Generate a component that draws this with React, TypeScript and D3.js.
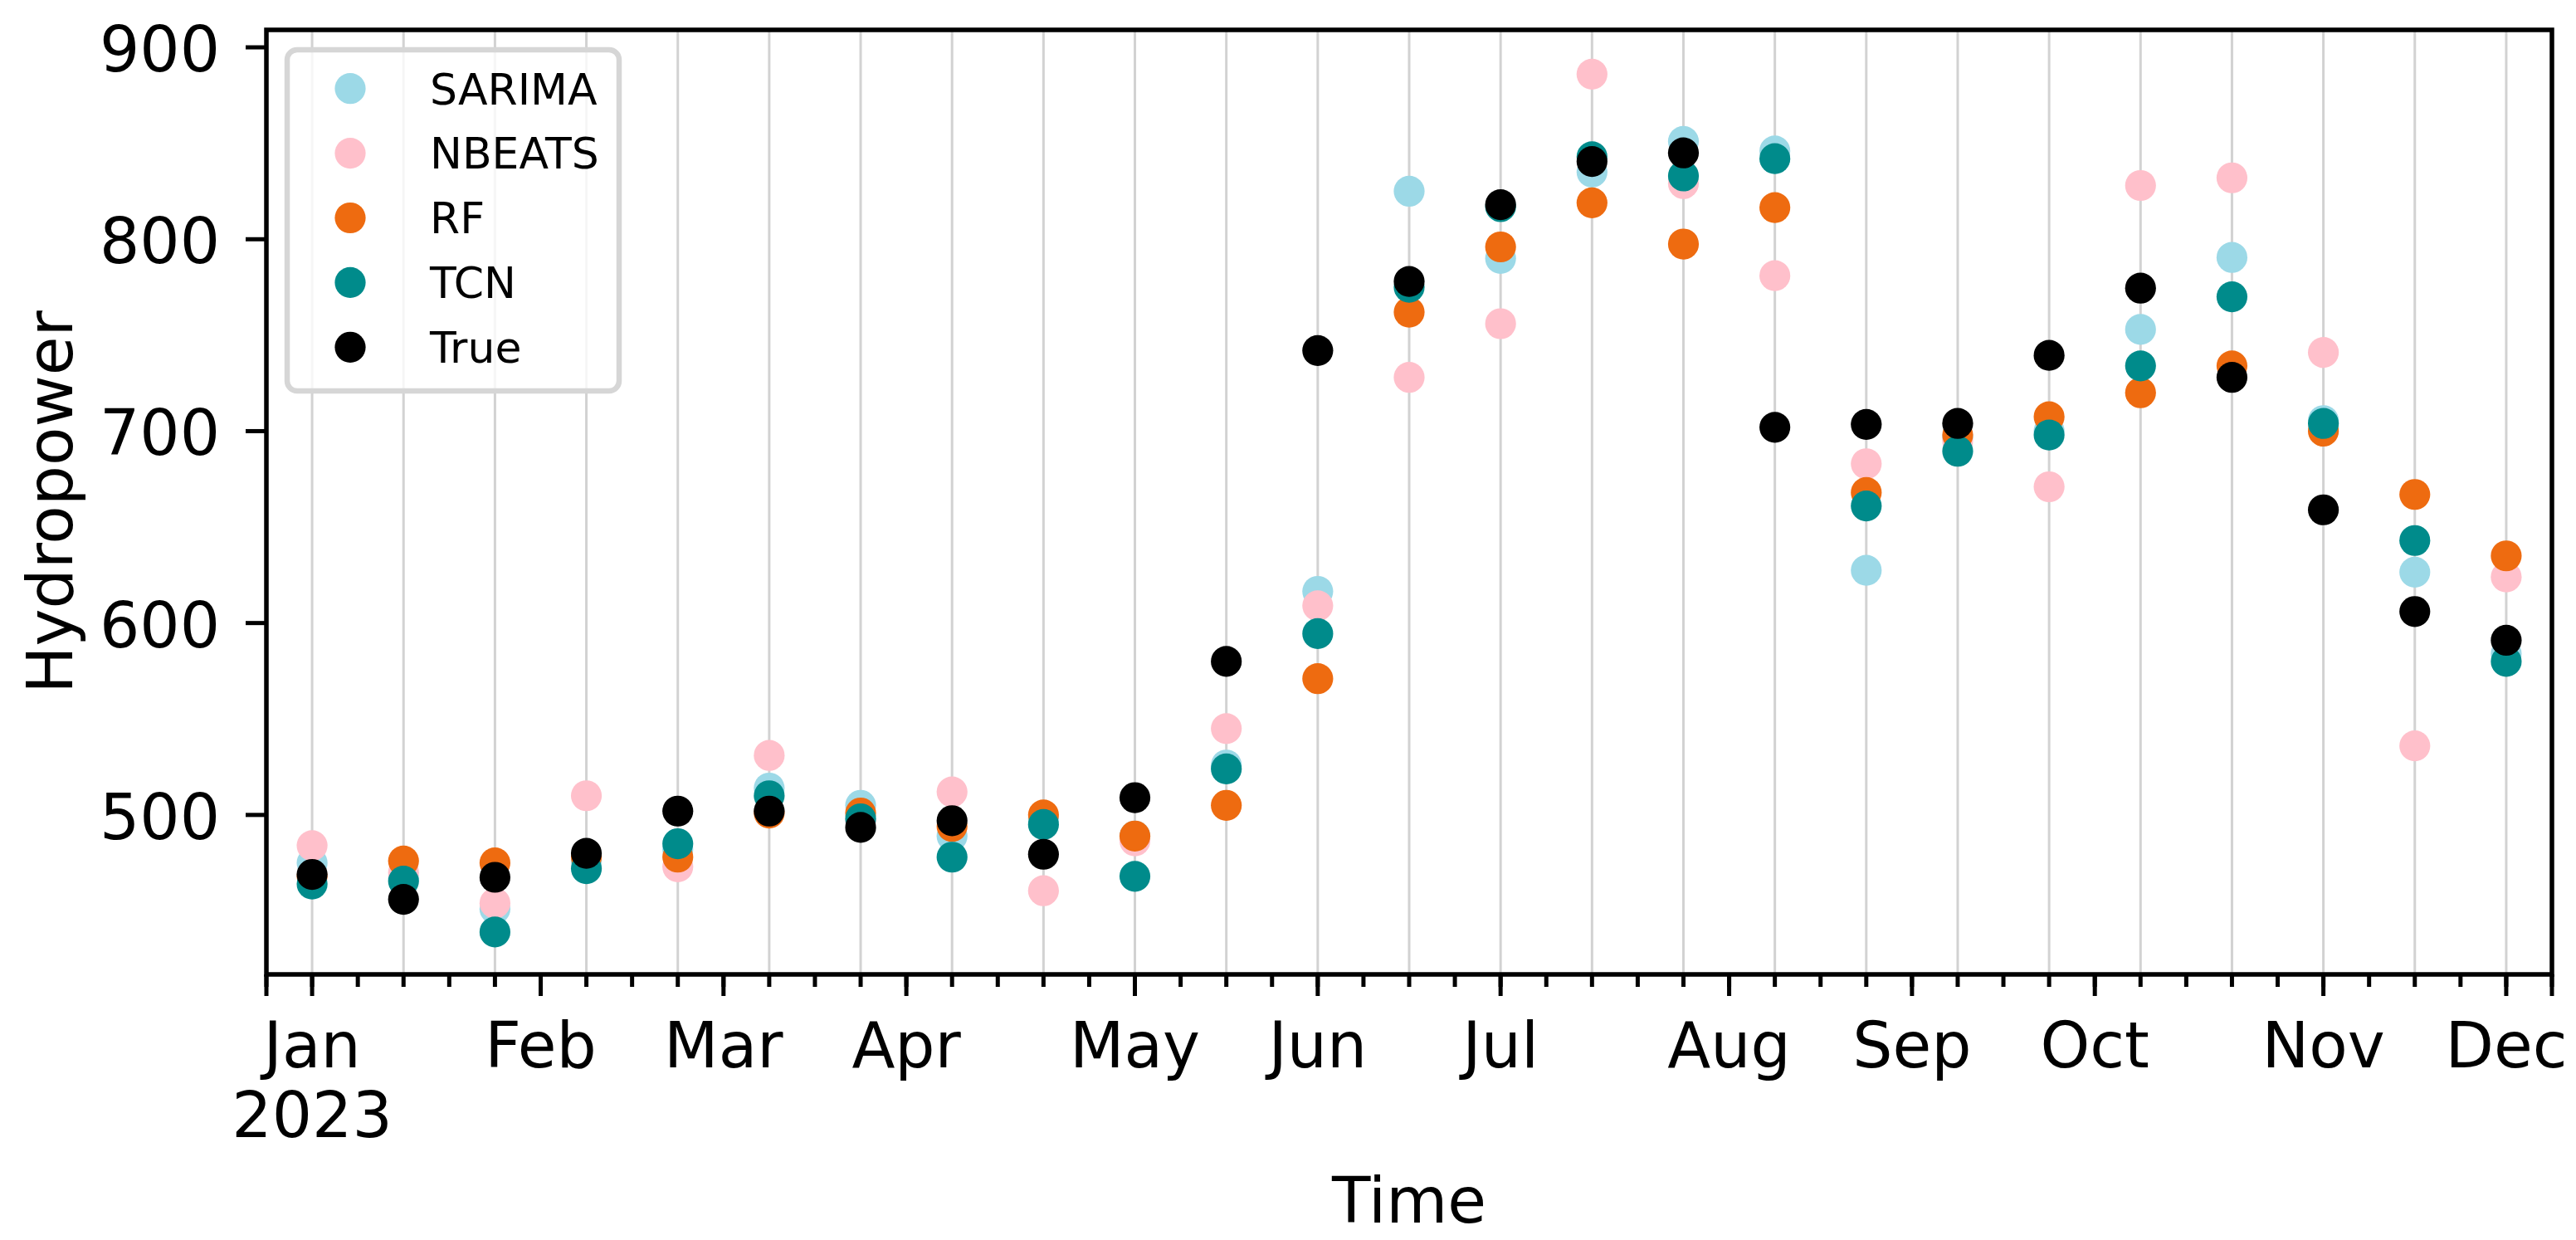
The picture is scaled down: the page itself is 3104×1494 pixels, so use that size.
import React, { useEffect } from "react";
import * as d3 from "d3";

// ---- Data ----
// x positions are in weeks since the first observation (Jan 2023), one point every 2 weeks
const weekIndex = [0, 2, 4, 6, 8, 10, 12, 14, 16, 18, 20, 22, 24, 26, 28, 30, 32, 34, 36, 38, 40, 42, 44, 46, 48];

const sarima = [475, 467, 451, 476, 482, 514, 505, 489, 498, 489, 526, 616.5, 825, 790, 835, 851, 846, 627.5, 697, 700, 753, 790.5, 705.5, 626.5, 584];
const nbeats = [484, 470, 454, 510, 473, 531, 497, 512, 460.5, 486.5, 545, 609, 728, 756, 886, 829, 781, 683, 695, 671, 828, 832, 741, 536, 624];
const rf = [468, 476, 475, 478, 478, 501, 501, 494, 500, 489, 505, 571, 762, 796, 819, 797.5, 816.5, 668, 698, 707.5, 720, 734, 700, 667, 635];
const tcn = [464, 465.5, 439, 472, 485, 510, 498, 478, 495, 468, 524, 594.5, 775, 817, 843, 833, 842, 661, 689.5, 698, 734, 770, 704, 643, 580];
const truth = [469, 456, 467.5, 480, 502, 502, 493.5, 497, 479.5, 509, 580, 742, 778, 818, 840.5, 845, 702, 703.5, 704, 739.5, 774.5, 728, 659, 606, 591];

const seriesNames = ["SARIMA", "NBEATS", "RF", "TCN", "True"];
const seriesColors = ["#9cd9e7", "#ffc0cb", "#ee6b10", "#008b8b", "#000000"];
const seriesValues = [sarima, nbeats, rf, tcn, truth];

// month ticks (week index of month start) and labels
const monthWeeks = [0, 5, 9, 13, 18, 22, 26, 31, 35, 39, 44, 48];
const monthLabels = ["Jan", "Feb", "Mar", "Apr", "May", "Jun", "Jul", "Aug", "Sep", "Oct", "Nov", "Dec"];
const yTicks = [500, 600, 700, 800, 900];

const W = 3104;
const H = 1494;
const left = 321;
const right = 3075;
const top = 36;
const bottom = 1174;
const FONT = "DejaVu Sans";

export default function App() {
  useEffect(() => {
    document.body.style.margin = "0";
  }, []);

  const x = d3.scaleLinear().domain([-1, 49]).range([left, right]);
  const y = d3.scaleLinear().domain([416.9, 909.1]).range([bottom, top]);

  const minorWeeks = d3.range(-1, 50);
  const endTicks = [-1, 49];

  const legendX = 346;
  const legendY = 60;
  const legendW = 400;
  const legendH = 411;
  const rowH = 77.9;

  return (
    <svg
      width={W}
      height={H}
      viewBox={`0 0 ${W} ${H}`}
      style={{ display: "block", position: "absolute", left: 0, top: 0, background: "#fff" }}
      fontFamily={FONT}
    >
      <rect x={0} y={0} width={W} height={H} fill="#fff" />
      {/* vertical grid at data points */}
      {weekIndex.map((w, i) => (
        <line key={"g" + i} x1={x(w)} x2={x(w)} y1={top} y2={bottom} stroke="#d2d2d2" strokeWidth={3} />
      ))}

      {/* points */}
      {seriesValues.map((vals, s) => (
        <g key={"s" + s}>
          {vals.map((v, i) => (
            <circle key={i} cx={x(weekIndex[i])} cy={y(v)} r={18.6} fill={seriesColors[s]} />
          ))}
        </g>
      ))}

      {/* spines */}
      <rect x={left} y={top} width={right - left} height={bottom - top} fill="none" stroke="#000" strokeWidth={5.5} />

      {/* x minor ticks */}
      {minorWeeks.map((w) => (
        <line key={"m" + w} x1={x(w)} x2={x(w)} y1={bottom} y2={bottom + 15} stroke="#000" strokeWidth={5} />
      ))}
      {/* x major ticks */}
      {monthWeeks.concat(endTicks).map((w) => (
        <line key={"M" + w} x1={x(w)} x2={x(w)} y1={bottom} y2={bottom + 26} stroke="#000" strokeWidth={5} />
      ))}
      {monthWeeks.map((w, i) => (
        <text key={"l" + i} x={x(w)} y={1286} fontSize={76} textAnchor="middle" fill="#000">
          {monthLabels[i]}
        </text>
      ))}
      <text x={x(0)} y={1370} fontSize={76} textAnchor="middle" fill="#000">2023</text>

      {/* y ticks */}
      {yTicks.map((t) => (
        <g key={"y" + t}>
          <line x1={left - 25} x2={left} y1={y(t)} y2={y(t)} stroke="#000" strokeWidth={5} />
          <text x={265} y={y(t) + 29} fontSize={76} textAnchor="end" fill="#000">
            {t}
          </text>
        </g>
      ))}

      {/* axis labels */}
      <text x={(left + right) / 2} y={1473} fontSize={76} textAnchor="middle" fill="#000">Time</text>
      <text transform={`translate(87, ${(top + bottom) / 2}) rotate(-90)`} fontSize={76} textAnchor="middle" fill="#000">
        Hydropower
      </text>

      {/* legend */}
      <rect
        x={legendX}
        y={legendY}
        width={legendW}
        height={legendH}
        rx={12}
        ry={12}
        fill="#fff"
        fillOpacity={0.8}
        stroke="#d6d6d6"
        strokeWidth={6.5}
      />
      {seriesNames.map((n, i) => {
        const cy = 106.7 + i * rowH;
        return (
          <g key={"lg" + i}>
            <circle cx={422} cy={cy} r={18.6} fill={seriesColors[i]} />
            <text x={518} y={cy + 18.8} fontSize={52} fill="#000">
              {n}
            </text>
          </g>
        );
      })}
    </svg>
  );
}
